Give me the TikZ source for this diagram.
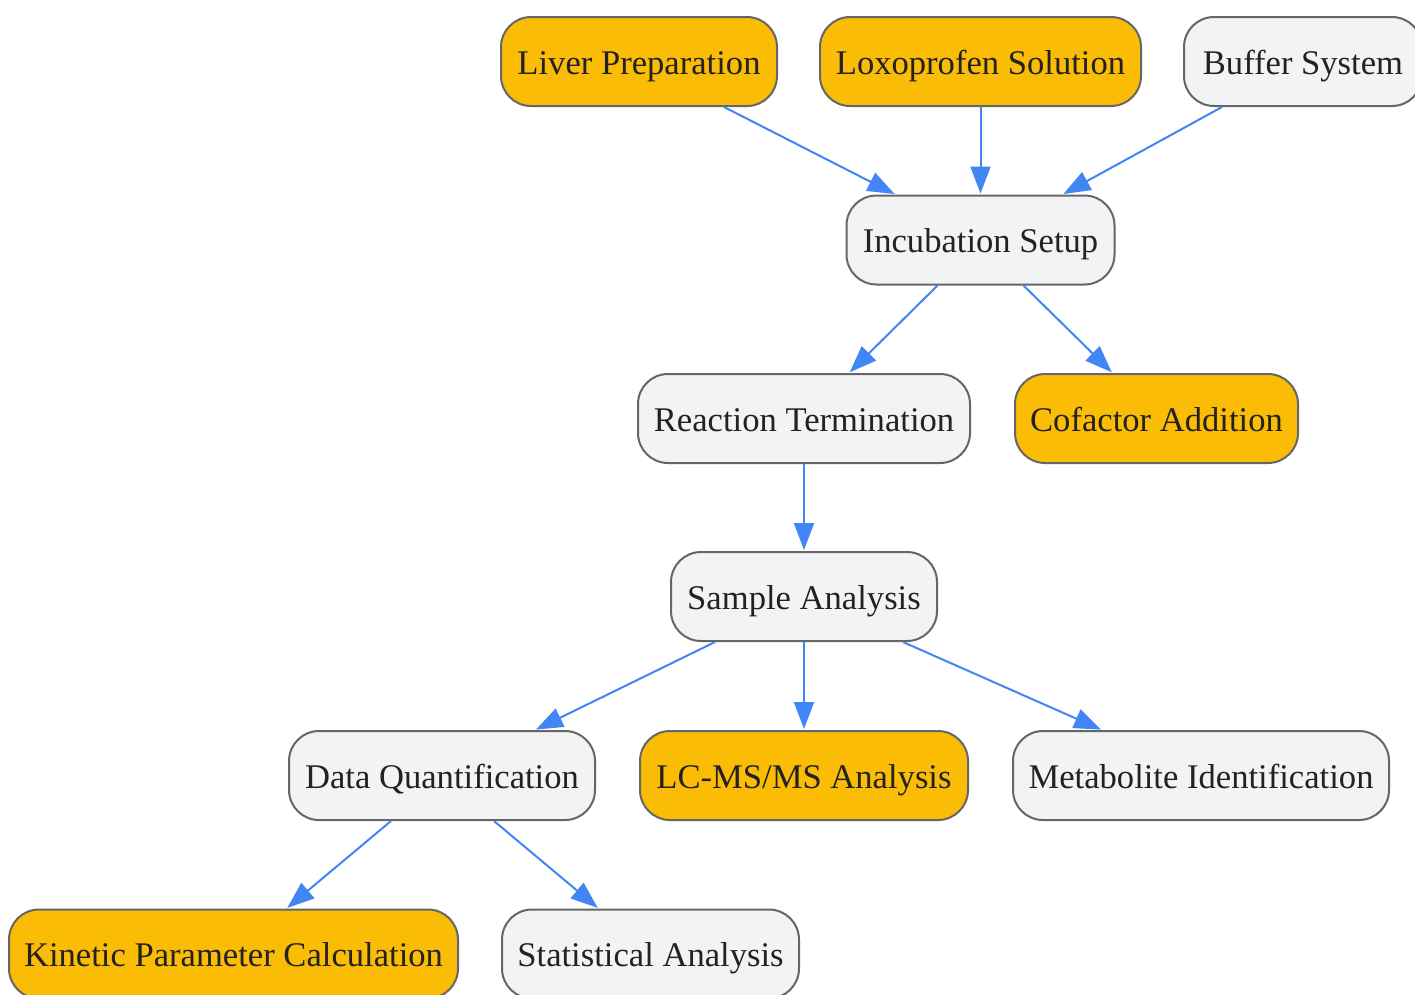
\documentclass[tikz,border=0pt]{standalone}
\usepackage{fontspec}
\setmainfont{Liberation Serif}
\usetikzlibrary{arrows.meta,calc}
\definecolor{boxorange}{HTML}{FBBC05}
\definecolor{boxgray}{HTML}{F1F3F4}
\definecolor{boxline}{HTML}{666666}
\definecolor{arrowblue}{HTML}{4285F4}
\definecolor{txt}{HTML}{222222}
\tikzset{
  box/.style={draw=boxline, line width=2pt, rounded corners=30pt, minimum height=89pt,
    inner sep=0pt, text height=30pt, text depth=4.4pt, text=txt, font=\fontsize{34.6}{40}\selectfont},
  obox/.style={box, fill=boxorange},
  gbox/.style={box, fill=boxgray},
  conn/.style={draw=arrowblue, line width=2pt, -{Triangle[length=27pt,width=20pt]}, shorten >=1pt}
}
\begin{document}
\begin{tikzpicture}[x=1pt,y=-1pt]
\useasboundingbox[fill=white] (0,0) rectangle (1415,994);
\node[obox, minimum width=276pt] (liver) at (639,61.5) {Liver Preparation};
\node[obox, minimum width=321pt] (loxo) at (980.5,61.5) {Loxoprofen Solution};
\node[gbox, minimum width=238pt] (buffer) at (1303,61.5) {Buffer System};
\node[gbox, minimum width=268pt] (incub) at (980.5,240) {Incubation Setup};
\node[gbox, minimum width=332pt] (react) at (804,418.5) {Reaction Termination};
\node[obox, minimum width=283pt] (cofac) at (1156.5,418.5) {Cofactor Addition};
\node[gbox, minimum width=266pt] (sample) at (804,596.5) {Sample Analysis};
\node[gbox, minimum width=306pt] (dataq) at (442,775.5) {Data Quantification};
\node[obox, minimum width=328pt] (lcms) at (804,775.5) {LC-MS/MS Analysis};
\node[gbox, minimum width=376pt] (metab) at (1201,775.5) {Metabolite Identification};
\node[obox, minimum width=449pt] (kinetic) at (233.5,954) {Kinetic Parameter Calculation};
\node[gbox, minimum width=297pt] (stat) at (650.5,954) {Statistical Analysis};

\draw[conn] ([xshift=85pt]liver.south) -- ([xshift=-85pt]incub.north);
\draw[conn] (loxo.south) -- (incub.north);
\draw[conn] ([xshift=-81pt]buffer.south) -- ([xshift=82pt]incub.north);
\draw[conn] ([xshift=-43pt]incub.south) -- ([xshift=45pt]react.north);
\draw[conn] ([xshift=43pt]incub.south) -- ([xshift=-44pt]cofac.north);
\draw[conn] (react.south) -- (sample.north);
\draw[conn] ([xshift=-89pt]sample.south) -- ([xshift=93pt]dataq.north);
\draw[conn] (sample.south) -- (lcms.north);
\draw[conn] ([xshift=99pt]sample.south) -- ([xshift=-99pt]metab.north);
\draw[conn] ([xshift=-51pt]dataq.south) -- ([xshift=53pt]kinetic.north);
\draw[conn] ([xshift=52pt]dataq.south) -- ([xshift=-52pt]stat.north);
\end{tikzpicture}
\end{document}
